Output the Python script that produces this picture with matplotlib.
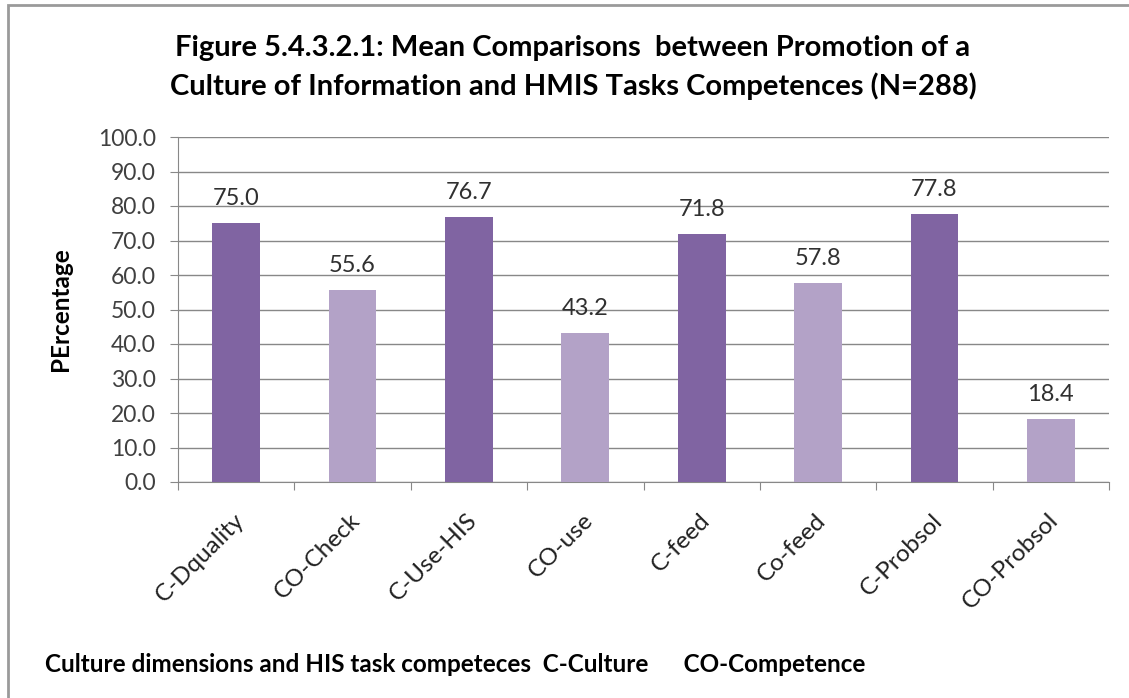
import matplotlib
matplotlib.use("Agg")
import matplotlib.pyplot as plt
from matplotlib.patches import Rectangle
from matplotlib.transforms import ScaledTranslation

categories = ["C-Dquality", "CO-Check", "C-Use-HIS", "CO-use", "C-feed", "Co-feed", "C-Probsol", "CO-Probsol"]
values = [75.0, 55.6, 76.7, 43.2, 71.8, 57.8, 77.8, 18.4]
yticks = [0, 10, 20, 30, 40, 50, 60, 70, 80, 90, 100]

dark = "#8064A2"
light = "#B3A2C7"
colors = [dark if i % 2 == 0 else light for i in range(len(values))]

plt.rcParams['font.family'] = ['Lato', 'DejaVu Sans']

W, H = 1129, 698
fig = plt.figure(figsize=(W / 100, H / 100), dpi=100)
fig.patch.set_facecolor("white")

# outer border
fig.add_artist(Rectangle((8 / W, -0.01), 1.2, 1 - 5 / H + 0.01, transform=fig.transFigure,
                         fill=False, edgecolor="#9a9a9a", linewidth=2))

ax = fig.add_axes([178 / W, 1 - 482 / H, (1109 - 178) / W, (482 - 137) / H])
x = list(range(len(categories)))
ax.bar(x, values, width=0.41, color=colors, zorder=3)
ax.set_xlim(-0.5, len(categories) - 0.5)
ax.set_ylim(0, 100)
ax.set_yticks(yticks)
ax.set_yticklabels([f"{v:.1f}" for v in yticks], fontsize=16.5, color="#404040")
ax.yaxis.grid(True, color="#888888", linewidth=1, zorder=0)
ax.set_xticks([i + 0.5 for i in range(-1, len(categories))], minor=False)
ax.set_xticklabels([])
ax.set_xticks(x, minor=True)
ax.tick_params(axis="x", which="minor", length=0, pad=20)
ax.tick_params(axis="x", which="major", length=6, color="#888888")
ax.tick_params(axis="y", length=6, color="#888888", pad=10)
labels = ax.set_xticklabels(categories, minor=True, rotation=45, ha="right", va="top",
                            rotation_mode="default", fontsize=17.5, color="#202020")
offset = ScaledTranslation(12 / 100, 0, fig.dpi_scale_trans)
for lab in labels:
    lab.set_transform(lab.get_transform() + offset)
for s in ["top", "right"]:
    ax.spines[s].set_visible(False)
ax.spines["left"].set_color("#888888")
ax.spines["bottom"].set_color("#888888")

for xi, v in zip(x, values):
    ax.annotate(f"{v:.1f}", (xi, v), xytext=(0, 10), textcoords="offset points",
                ha="center", va="bottom", fontsize=17, color="#303030")

ax.set_ylabel("PErcentage", fontsize=17.5, fontweight="bold")
ax.yaxis.set_label_coords((72 - 178) / (1109 - 178), 0.5)

fig.text(573 / W, 1 - 48 / H, "Figure 5.4.3.2.1: Mean Comparisons  between Promotion of a",
         ha="center", va="center", fontsize=21, fontweight="bold")
fig.text(573 / W, 1 - 86 / H, "Culture of Information and HMIS Tasks Competences (N=288)",
         ha="center", va="center", fontsize=21, fontweight="bold")
fig.text(45 / W, 1 - 665 / H, "Culture dimensions and HIS task competeces  C-Culture      CO-Competence",
         ha="left", va="center", fontsize=17.5, fontweight="bold")

fig.savefig("out.png", dpi=100)
